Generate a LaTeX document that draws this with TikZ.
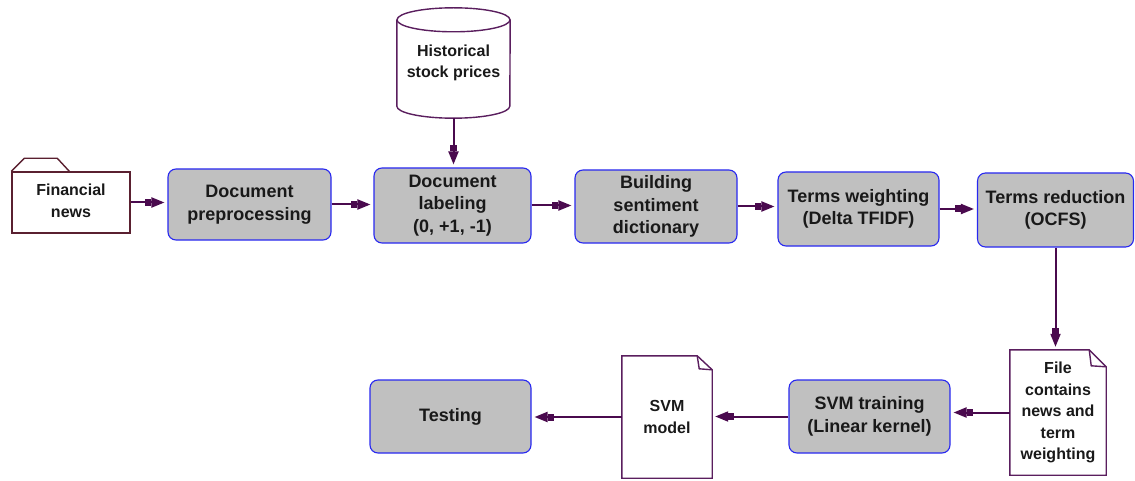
\documentclass[tikz,border=0pt]{standalone}
\usepackage{fontspec}
\setmainfont{Liberation Sans}
\usetikzlibrary{arrows.meta}
\definecolor{boxgray}{HTML}{C0C0C0}
\definecolor{boxblue}{HTML}{2828F0}
\definecolor{plum}{HTML}{5A1E5E}
\definecolor{arrowplum}{HTML}{4A0A4E}
\definecolor{folderbrown}{HTML}{5A2030}
\tikzset{
  procbox/.style={draw=boxblue, fill=boxgray, line width=1.1pt, rounded corners=8pt,
    align=center, inner sep=0pt, text=black!90,
    font=\bfseries\fontsize{18}{22.5}\selectfont},
  plainbox/.style={align=center, inner sep=0pt, text=black!90,
    font=\bfseries\fontsize{16}{21.5}\selectfont},
  outline/.style={draw=plum, line width=1.4pt},
  flow/.style={arrowplum, line width=2pt, shorten >=3pt,
    -{Rectangle[length=6pt,width=7pt]Triangle[length=13pt,width=10pt]}},
}

\begin{document}
\begin{tikzpicture}[x=1pt, y=-1pt]
\useasboundingbox (0,0) rectangle (1135,481);
% Top row
    \node[plainbox, draw=folderbrown, line width=1.4pt, minimum width=118pt, minimum height=61pt] (news) at (71,202.5) {Financial\\news\vphantom{g}};
    \node[procbox, minimum width=163pt, minimum height=71pt] (prep) at (249.5,204.5) {Document\\preprocessing};
    \node[procbox, minimum width=157pt, minimum height=75pt] (label) at (452.5,205.5) {Document\\labeling\\(0, +1, -1)};
    \node[procbox, minimum width=162pt, minimum height=73pt] (build) at (656,206.5) {Building\\sentiment\\dictionary};
    \node[procbox, minimum width=161pt, minimum height=74pt] (weight) at (858.5,209) {Terms weighting\\(Delta TFIDF)};
    \node[procbox, minimum width=156pt, minimum height=74pt] (reduce) at (1055.5,210) {Terms reduction\\(OCFS)};
    \node[plainbox, minimum width=113pt, minimum height=110pt] (prices) at (453.5,63) {Historical\\stock prices};
% Bottom row
    \node[plainbox, minimum width=96pt, minimum height=125pt] (file) at (1058,412.5) {File\\contains\\news and\\term\\weighting};
    \node[procbox, minimum width=161pt, minimum height=73pt] (train) at (869.5,416.5) {SVM training\\(Linear kernel)};
    \node[plainbox, minimum width=90pt, minimum height=122pt] (model) at (667,417) {SVM\\model};
    \node[procbox, minimum width=161pt, minimum height=73pt] (test) at (450.5,416.5) {Testing};
% Folder tab
    \draw[draw=folderbrown, line width=1.4pt] (news.north west) -- ++(13,-13) -- ++(33,0) -- ++(12,13);
% Cylinder
    \draw[outline] ([yshift=-12pt]prices.north west) -- ([yshift=12pt]prices.south west)
        arc[start angle=180, end angle=0, x radius=56.5, y radius=12] -- ([yshift=-12pt]prices.north east);
    \draw[outline] ([yshift=-12pt]prices.north) ellipse[x radius=56.5, y radius=12];
% Pages with folded corner
    \draw[outline] (file.north west) -- ([xshift=-17pt]file.north east) -- ([yshift=-17pt]file.north east)
        -- (file.south east) -- (file.south west) -- cycle;
    \draw[outline] ([xshift=-17pt]file.north east) -- ([xshift=-15pt, yshift=-16pt]file.north east) -- ([yshift=-17pt]file.north east);
    \draw[outline] (model.north west) -- ([xshift=-15pt]model.north east) -- ([yshift=-14pt]model.north east)
        -- (model.south east) -- (model.south west) -- cycle;
    \draw[outline] ([xshift=-15pt]model.north east) -- ([xshift=-13pt, yshift=-13pt]model.north east) -- ([yshift=-14pt]model.north east);
% Arrows
    \draw[flow] (news) -- (news -| prep.west);
    \draw[flow] (prep) -- (prep -| label.west);
    \draw[flow] (label) -- (label -| build.west);
    \draw[flow] (build) -- (build -| weight.west);
    \draw[flow] (weight) -- (weight -| reduce.west);
    \draw[flow] (prices) -- (prices |- label.north);
    \draw[flow] (reduce) -- (reduce |- file.north);
    \draw[flow] (file) -- (file -| train.east);
    \draw[flow] (train) -- (train -| model.east);
    \draw[flow] (model) -- (model -| test.east);
\end{tikzpicture}
\end{document}
